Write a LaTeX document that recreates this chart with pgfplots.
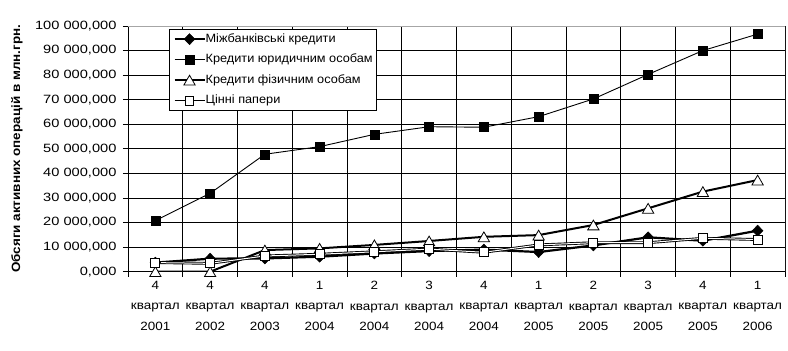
\documentclass[border=0pt]{standalone}
\usepackage{fontspec}
\setmainfont{Liberation Sans}
\newfontfamily\chartfont[FakeStretch=1.12]{Liberation Sans}
\newfontfamily\tickfont[FakeStretch=1.22]{Liberation Sans}
\newfontfamily\legfont[FakeStretch=1.06]{Liberation Sans}
\usepackage{pgfplots}
\pgfplotsset{compat=1.18}
\begin{document}
\begin{tikzpicture}[x=1pt,y=1pt]
\path[use as bounding box] (0,0) rectangle (788,351);
\begin{axis}[
  at={(128pt,79.3pt)}, anchor=south west,
  scale only axis, width=657pt, height=245.7pt,
  xmin=-0.5, xmax=11.5, ymin=0, ymax=100,
  axis lines*=left,
  axis line style={-, black, line width=0.9pt},
  tick style={black, line width=0.9pt},
  tick align=outside, major tick length=5pt, minor tick length=5pt,
  xtick={0,...,11},
  xticklabels={{4\\квартал\\2001},{4\\квартал\\2002},{4\\квартал\\2003},{1\\квартал\\2004},{2\\квартал\\2004},{3\\квартал\\2004},{4\\квартал\\2004},{1\\квартал\\2005},{2\\квартал\\2005},{3\\квартал\\2005},{4\\квартал\\2005},{1\\квартал\\2006}},
  every major x tick/.style={draw=none},
  minor xtick={-0.5,0.5,...,11.5},
  xminorgrids,
  minor grid style={black, line width=0.9pt},
  ytick={0,10,...,100},
  yticklabels={{0,000},{10 000,000},{20 000,000},{30 000,000},{40 000,000},{50 000,000},{60 000,000},{70 000,000},{80 000,000},{90 000,000},{100 000,000}},
  ymajorgrids,
  major grid style={black, line width=0.9pt},
  xticklabel style={align=center, font=\chartfont\fontsize{12}{20.5}\selectfont, yshift=-1pt},
  yticklabel style={font=\tickfont\fontsize{12}{13}\selectfont, xshift=-3pt},
  /pgf/number format/assume math mode=true,
  ylabel={Обсяги активних операцій в млн.грн.},
  every axis y label/.style={at={(axis description cs:-0.169,0.5)}, rotate=90, anchor=center, font=\chartfont\fontsize{12}{13}\selectfont\bfseries},
  legend style={at={(0.0624,0.988)}, anchor=north west, draw=black, line width=0.9pt, fill=white,
    font=\legfont\fontsize{12}{13}\selectfont, inner sep=4pt, row sep=9pt,
    nodes={inner sep=0pt, text height=9pt, text depth=2.5pt}},
  legend cell align=left,
  legend image code/.code={\draw[mark repeat=2,mark phase=2] plot coordinates {(0pt,0pt) (15pt,0pt) (30pt,0pt)};},
  /tikz/every even column/.append style={column sep=3pt},
]
\addplot[black, line width=2.2pt, mark=diamond*, mark size=5.5pt,
  mark options={solid, fill=black, draw=black, line width=0.5pt, xscale=1.3}]
  coordinates {(0,3.7) (1,5.3) (2,5.4) (3,6.1) (4,7.4) (5,8.4) (6,9.0) (7,8.0) (8,10.7) (9,14.0) (10,12.6) (11,16.7)};
\addlegendentry{Міжбанківські кредити}
\addplot[black, line width=0.9pt, mark=square*, mark size=4.5pt,
  mark options={solid, fill=black, draw=black, line width=0.5pt}]
  coordinates {(0,20.8) (1,31.9) (2,47.8) (3,50.9) (4,55.9) (5,59.0) (6,58.8) (7,63.1) (8,70.3) (9,80.3) (10,90.0) (11,96.7)};
\addlegendentry{Кредити юридичним особам}
\addplot[black, line width=2pt, mark=triangle*, mark size=6.5pt,
  mark options={solid, fill=white, draw=black, line width=0.8pt, yshift=-1.6pt}]
  coordinates {(0,0) (1,0) (2,8.8) (3,9.5) (4,10.9) (5,12.5) (6,14.2) (7,14.9) (8,19.0) (9,25.8) (10,32.6) (11,37.3)};
\addlegendentry{Кредити фізичним особам}
\addplot[black, line width=2.8pt, forget plot]
  coordinates {(0,3.7) (1,3.4) (2,6.4) (3,7.1) (4,8.1) (5,9.2) (6,7.9) (7,10.9) (8,11.8) (9,11.8) (10,13.6) (11,13.1)};
\addplot[white, line width=1pt, mark=square*, mark size=4.5pt,
  mark options={solid, fill=white, draw=black, line width=0.8pt},
  legend image code/.code={\draw[black, line width=0.9pt] (0pt,0pt) -- (30pt,0pt); \draw[black, fill=white, line width=0.8pt] (11pt,-4.5pt) rectangle (19pt,4.5pt);}]
  coordinates {(0,3.7) (1,3.4) (2,6.4) (3,7.1) (4,8.1) (5,9.2) (6,7.9) (7,10.9) (8,11.8) (9,11.8) (10,13.6) (11,13.1)};
\addlegendentry{Цінні папери}
\draw[gray!70, line width=0.9pt] (rel axis cs:0,1) -- (rel axis cs:1,1) -- (rel axis cs:1,0);
\end{axis}
\end{tikzpicture}
\end{document}
